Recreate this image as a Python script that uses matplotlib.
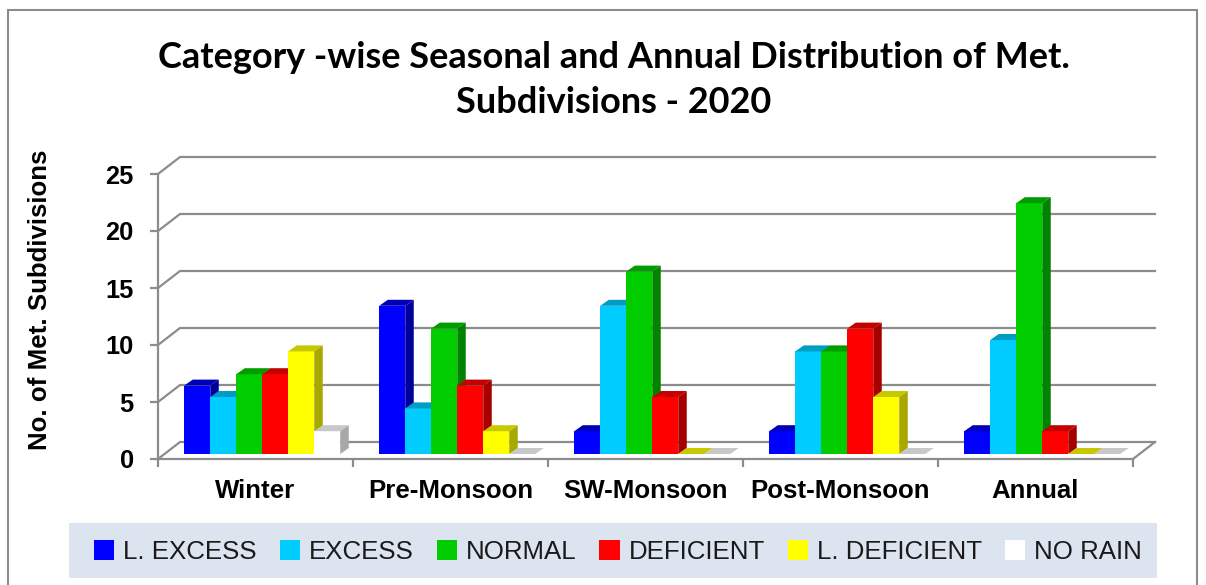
import matplotlib
matplotlib.use('Agg')
import matplotlib.pyplot as plt
import matplotlib.patches as patches

categories = ['Winter', 'Pre-Monsoon', 'SW-Monsoon', 'Post-Monsoon', 'Annual']
series_names = ['L. EXCESS', 'EXCESS', 'NORMAL', 'DEFICIENT', 'L. DEFICIENT', 'NO RAIN']

l_excess = [6, 13, 2, 2, 2]
excess = [5, 4, 13, 9, 10]
normal = [7, 11, 16, 9, 22]
deficient = [7, 6, 5, 11, 2]
l_deficient = [9, 2, 0, 5, 0]
no_rain = [2, 0, 0, 0, 0]
series_values = [l_excess, excess, normal, deficient, l_deficient, no_rain]

yticks = [0, 5, 10, 15, 20, 25]

front_colors = ['#0000FF', '#00CCFF', '#00CC00', '#FF0000', '#FFFF00', '#FFFFFF']
top_colors = ['#0000B8', '#009CC4', '#009C00', '#C40000', '#C8C800', '#C8C8C8']
side_colors = ['#00009A', '#0084A6', '#008400', '#A60000', '#A8A800', '#A8A8A8']

W, H = 1206, 585
GRID = '#8C8C8C'

fig = plt.figure(figsize=(W / 100, H / 100), dpi=100)
plt.rcParams['font.family'] = ['Liberation Sans', 'DejaVu Sans']


def fx(x):
    return x / W


def fy(y):
    return 1 - y / H


# outer frame, runs off the bottom of the picture
fig.add_artist(patches.Rectangle((fx(8), fy(600)), fx(1189), 590 / H, transform=fig.transFigure,
                                 fc='white', ec=GRID, lw=1.5, zorder=-2))

# plot area: front plane of the 3D box
left, right, top, bottom = 158, 1133, 174, 459
ax = fig.add_axes([fx(left), fy(bottom), fx(right - left), (bottom - top) / H])
ax.patch.set_visible(False)
ax.set_xlim(0, 5)
ax.set_ylim(0, 25)

px_x = 5 / (right - left)
px_y = 25 / (bottom - top)

# wall depth and bar depth, in data units
wall_dx, wall_dy = 22 * px_x, 17 * px_y
bar_dx, bar_dy = 8.5 * px_x, 6 * px_y
bar_w = 26 * px_x
base_x, base_y = 6.75 * px_x, 5 * px_y

# grid on the back wall with the diagonals on the left side wall
for v in yticks:
    ax.plot([0, wall_dx, 5 + wall_dx], [v, v + wall_dy, v + wall_dy], color=GRID, lw=1.6,
            clip_on=False, zorder=1, solid_joinstyle='miter')
ax.plot([5, 5 + wall_dx], [0, wall_dy], color=GRID, lw=1.6, clip_on=False, zorder=1)

# bars
n = len(series_values)
for c in range(len(categories)):
    for s in range(n):
        val = series_values[s][c]
        x0 = c + 0.5 + base_x + (s - n / 2) * bar_w
        x1 = x0 + bar_w
        z = 3 + c * 10 + s
        ax.bar(x0, val, bar_w, bottom=base_y, align='edge', color=front_colors[s], lw=0,
               zorder=z, clip_on=False)
        y1 = base_y + val
        ax.add_patch(patches.Polygon([(x0, y1), (x1, y1), (x1 + bar_dx, y1 + bar_dy), (x0 + bar_dx, y1 + bar_dy)],
                                     fc=top_colors[s], lw=0, zorder=z, clip_on=False))
        if val > 0:
            ax.add_patch(patches.Polygon([(x1, base_y), (x1 + bar_dx, base_y + bar_dy),
                                          (x1 + bar_dx, y1 + bar_dy), (x1, y1)],
                                         fc=side_colors[s], lw=0, zorder=z, clip_on=False))

# axes
for name in ['top', 'right']:
    ax.spines[name].set_visible(False)
for name in ['left', 'bottom']:
    ax.spines[name].set_color(GRID)
    ax.spines[name].set_linewidth(1.6)
    ax.spines[name].set_zorder(2)

ax.set_yticks(yticks)
ax.set_yticklabels([str(v) for v in yticks], fontsize=18.3, fontweight='bold', color='black')
ax.tick_params(axis='y', length=5.5, width=1.6, color=GRID, pad=12)

ax.set_xticks(range(6))
ax.set_xticklabels([])
ax.set_xticks([i + 0.5 for i in range(5)], minor=True)
ax.set_xticklabels(categories, minor=True, fontsize=18.6, fontweight='bold', color='black')
ax.tick_params(axis='x', which='major', length=6, width=1.6, color=GRID)
ax.tick_params(axis='x', which='minor', length=0, pad=14.5)

ax.set_ylabel('No. of Met. Subdivisions', fontsize=18.6, fontweight='bold')
ax.yaxis.set_label_coords(fx(52 - left) * W / (right - left), 0.558)

# title
fig.text(fx(614), fy(80), 'Category -wise Seasonal and Annual Distribution of Met.\nSubdivisions - 2020',
         family='Lato', fontweight='bold', fontsize=26, ha='center', va='center', linespacing=1.48)

# legend band
fig.add_artist(patches.Rectangle((fx(69), fy(578)), fx(1088), 55 / H, transform=fig.transFigure,
                                 fc='#DCE4F0', ec='none', zorder=-1))
handles = [patches.Patch(fc=col, ec='none', label=name) for col, name in zip(front_colors, series_names)]
fig.legend(handles=handles, ncol=6, frameon=False, loc='center', bbox_to_anchor=(fx(618), fy(552)),
           fontsize=18.6, handlelength=0.78, handleheight=0.78, handletextpad=0.35,
           columnspacing=0.89, borderpad=0, labelcolor='#1A1A1A')

plt.savefig('out.png', dpi=100)
